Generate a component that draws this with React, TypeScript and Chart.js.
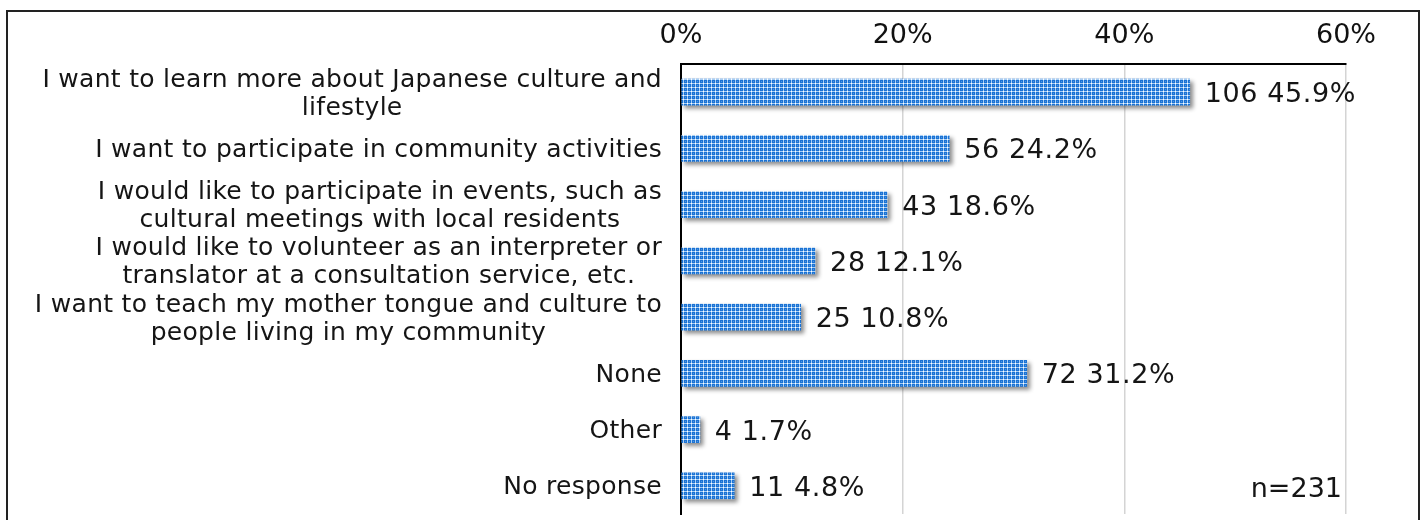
import React, { useEffect, useRef } from "react";
import { Chart, registerables } from "chart.js";

Chart.register(...registerables);

const categories: string[][] = [
  ["I want to learn more about Japanese culture and", "lifestyle"],
  ["I want to participate in community activities"],
  ["I would like to participate in events, such as", "cultural meetings with local residents"],
  ["I would like to volunteer as an interpreter or", "translator at a consultation service, etc."],
  ["I want to teach my mother tongue and culture to", "people living in my community"],
  ["None"],
  ["Other"],
  ["No response"],
];
const counts: number[] = [106, 56, 43, 28, 25, 72, 4, 11];
const percents: number[] = [45.9, 24.2, 18.6, 12.1, 10.8, 31.2, 1.7, 4.8];
const tickValues: number[] = [0, 20, 40, 60];
const sampleNote = "n=231";

const FONT = "'DejaVu Sans', 'Noto Sans', sans-serif";

function makePattern(): CanvasPattern | string {
  const c = document.createElement("canvas");
  c.width = 4;
  c.height = 4;
  const g = c.getContext("2d");
  if (!g) return "#3a86da";
  g.fillStyle = "#1a72d4";
  g.fillRect(0, 0, 4, 4);
  g.fillStyle = "#a9cff5";
  g.fillRect(3, 0, 1, 4);
  g.fillRect(0, 3, 4, 1);
  g.fillStyle = "#ffffff";
  g.fillRect(3, 3, 1, 1);
  g.fillStyle = "#4f95e0";
  g.fillRect(1, 1, 1, 1);
  const p = g.createPattern(c, "repeat");
  return p || "#3a86da";
}

export default function App() {
  const ref = useRef<HTMLCanvasElement | null>(null);

  useEffect(() => {
    if (!ref.current) return;
    const pattern = makePattern();

    const shadowPlugin = {
      id: "barShadow",
      beforeDatasetsDraw(chart: any) {
        const ctx = chart.ctx;
        ctx.save();
        ctx.shadowColor = "rgba(0,0,0,0.45)";
        ctx.shadowBlur = 4;
        ctx.shadowOffsetX = 3;
        ctx.shadowOffsetY = 3;
      },
      afterDatasetsDraw(chart: any) {
        chart.ctx.restore();
      },
    };

    const labelPlugin = {
      id: "customLabels",
      afterDraw(chart: any) {
        const ctx = chart.ctx;
        const yScale = chart.scales.y;
        const meta = chart.getDatasetMeta(0);
        ctx.save();
        ctx.font = `25px ${FONT}`;
        (ctx as any).letterSpacing = "0.3px";
        ctx.fillStyle = "#151515";
        ctx.textAlign = "center";
        ctx.textBaseline = "middle";
        const rightEdge = chart.chartArea.left - 19;
        const lineH = 28;
        categories.forEach((lines, i) => {
          const cy = yScale.getPixelForValue(i) + 2;
          const w = Math.max(...lines.map((l) => ctx.measureText(l).width));
          const cx = rightEdge - w / 2;
          const startY = cy - ((lines.length - 1) * lineH) / 2;
          lines.forEach((l, j) => ctx.fillText(l, cx, startY + j * lineH));
        });
        ctx.font = `27px ${FONT}`;
        (ctx as any).letterSpacing = "0.6px";
        ctx.textAlign = "left";
        meta.data.forEach((bar: any, i: number) => {
          ctx.fillText(`${counts[i]} ${percents[i].toFixed(1)}%`, bar.x + 15, bar.y + 3);
        });
        (ctx as any).letterSpacing = "0px";
        ctx.textAlign = "right";
        ctx.fillText(sampleNote, 1342, 490);
        ctx.restore();
      },
    };

    const chart = new Chart(ref.current, {
      type: "bar",
      data: {
        labels: categories.map((c) => c.join(" ")),
        datasets: [
          {
            data: percents,
            backgroundColor: pattern as any,
            borderWidth: 0,
            barThickness: 26,
          },
        ],
      },
      options: {
        indexAxis: "y",
        animation: false,
        responsive: false,
        devicePixelRatio: 1,
        layout: { padding: { left: 0, right: 78, top: 0, bottom: 6 } },
        plugins: {
          legend: { display: false },
          tooltip: { enabled: false },
        },
        scales: {
          x: {
            position: "top",
            min: 0,
            max: 60,
            afterBuildTicks(scale: any) {
              scale.ticks = tickValues.map((v) => ({ value: v }));
            },
            afterFit(scale: any) {
              scale.height = 64;
            },
            ticks: {
              callback: (v: any) => `${v}%`,
              font: { size: 27, family: FONT },
              color: "#111111",
              padding: 12,
              maxRotation: 0,
            },
            grid: { color: "#d4d4d4", lineWidth: 1.5, drawTicks: false },
            border: { display: true, color: "#000000", width: 2 },
          },
          y: {
            afterFit(scale: any) {
              scale.width = 681;
            },
            ticks: { display: false },
            grid: { display: false, drawTicks: false },
            border: { display: true, color: "#000000", width: 2 },
          },
        },
      },
      plugins: [shadowPlugin, labelPlugin],
    });

    return () => chart.destroy();
  }, []);

  return (
    <div style={{ position: "fixed", left: 0, top: 0, width: 1424, height: 520, background: "#ffffff", overflow: "hidden" }}>
      <canvas ref={ref} width={1424} height={520} style={{ position: "absolute", left: 0, top: 0 }} />
      <div
        style={{
          position: "absolute",
          left: 6,
          top: 10,
          width: 1414,
          height: 530,
          border: "2px solid #222222",
          boxSizing: "border-box",
          pointerEvents: "none",
        }}
      />
    </div>
  );
}
